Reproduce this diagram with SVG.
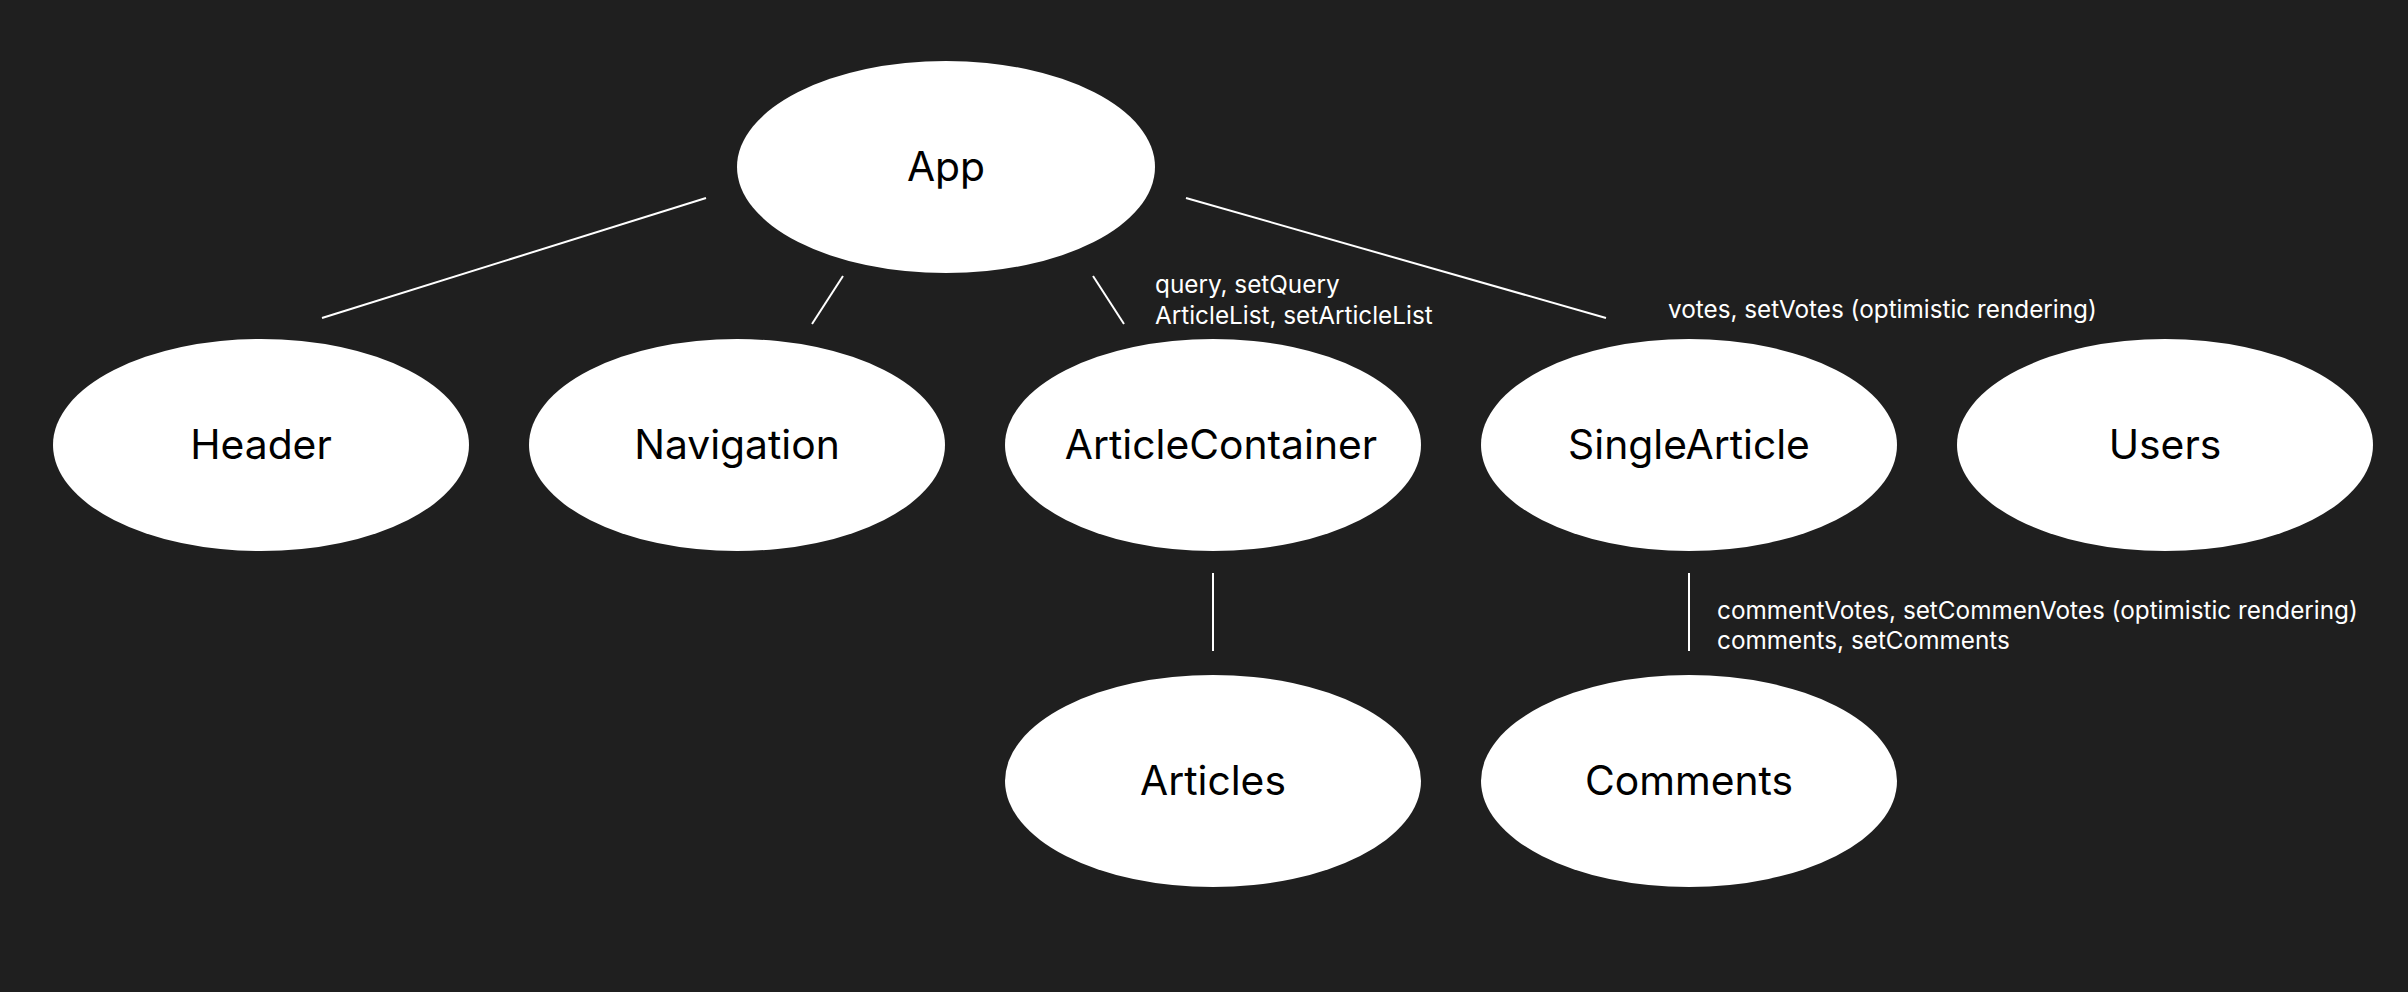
<svg xmlns="http://www.w3.org/2000/svg" width="2408" height="992" viewBox="0 0 2408 992">
<style>
.node ellipse{fill:#ffffff;}
.node text{font-family:Inter,"Liberation Sans",sans-serif;font-size:40.8px;fill:#000000;text-anchor:middle;}
.edges line{stroke:#ffffff;stroke-width:2;}
.lbl{font-family:Inter,"Liberation Sans",sans-serif;font-size:24.3px;fill:#ffffff;}
</style>
<rect width="2408" height="992" fill="#1f1f1f"/>
<g class="edges" id="connectors">
<line x1="706" y1="198" x2="322" y2="318"/>
<line x1="843" y1="276" x2="812" y2="324"/>
<line x1="1093" y1="276" x2="1124" y2="324"/>
<line x1="1186" y1="198" x2="1606" y2="318"/>
<line x1="1213" y1="573" x2="1213" y2="651"/>
<line x1="1689" y1="573" x2="1689" y2="651"/>
</g>
<g id="labels">
<text class="lbl" x="1155" y="293">query, setQuery</text>
<text class="lbl" x="1155" y="324">ArticleList, setArticleList</text>
<text class="lbl" x="1668" y="318">votes, setVotes (optimistic rendering)</text>
<text class="lbl" x="1717" y="619">commentVotes, setCommenVotes (optimistic rendering)</text>
<text class="lbl" x="1717" y="649">comments, setComments</text>
</g>
<g class="node" id="app"><ellipse cx="946" cy="167" rx="209" ry="106"/><text x="946" y="181">App</text></g>
<g class="node" id="header"><ellipse cx="261" cy="445" rx="208" ry="106"/><text x="261" y="459">Header</text></g>
<g class="node" id="navigation"><ellipse cx="737" cy="445" rx="208" ry="106"/><text x="737" y="459">Navigation</text></g>
<g class="node" id="articlecontainer"><ellipse cx="1213" cy="445" rx="208" ry="106"/><text x="1221" y="459">ArticleContainer</text></g>
<g class="node" id="singlearticle"><ellipse cx="1689" cy="445" rx="208" ry="106"/><text x="1689" y="459">SingleArticle</text></g>
<g class="node" id="users"><ellipse cx="2165" cy="445" rx="208" ry="106"/><text x="2165" y="459">Users</text></g>
<g class="node" id="articles"><ellipse cx="1213" cy="781" rx="208" ry="106"/><text x="1213" y="795">Articles</text></g>
<g class="node" id="comments"><ellipse cx="1689" cy="781" rx="208" ry="106"/><text x="1689" y="795">Comments</text></g>
</svg>
